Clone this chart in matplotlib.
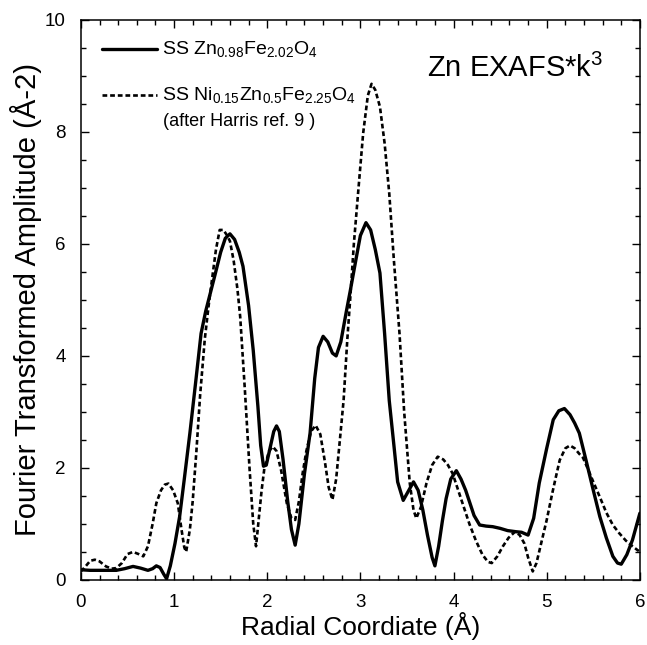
import numpy as np
import matplotlib
matplotlib.use("Agg")
from matplotlib import pyplot as plt
from matplotlib.lines import Line2D
from matplotlib.ticker import MultipleLocator

plt.rcParams['font.family'] = ['Liberation Sans', 'DejaVu Sans']
plt.rcParams['mathtext.fontset'] = 'custom'
plt.rcParams['mathtext.rm'] = 'Liberation Sans'

# SS Zn0.98Fe2.02O4 (solid)
r_zn = [0.00, 0.10, 0.20, 0.30, 0.38, 0.47, 0.56, 0.64, 0.72, 0.77, 0.81, 0.85, 0.89, 0.92,
        0.96, 1.01, 1.06, 1.11, 1.17, 1.23, 1.29, 1.34, 1.38, 1.44, 1.50, 1.55, 1.60, 1.65,
        1.70, 1.74, 1.80, 1.85, 1.90, 1.93, 1.96, 1.99, 2.03, 2.07, 2.10, 2.13, 2.17, 2.22,
        2.26, 2.30, 2.34, 2.40, 2.46, 2.51, 2.55, 2.60, 2.65, 2.70, 2.74, 2.79, 2.85, 2.89,
        2.95, 3.00, 3.06, 3.11, 3.16, 3.21, 3.26, 3.31, 3.36, 3.40, 3.46, 3.52, 3.57, 3.62,
        3.67, 3.72, 3.77, 3.80, 3.84, 3.88, 3.92, 3.97, 4.03, 4.08, 4.13, 4.17, 4.22, 4.28,
        4.35, 4.42, 4.50, 4.58, 4.67, 4.73, 4.80, 4.86, 4.92, 5.00, 5.07, 5.13, 5.19, 5.25,
        5.30, 5.35, 5.42, 5.50, 5.57, 5.64, 5.71, 5.76, 5.80, 5.86, 5.92, 5.96, 6.00]
amp_zn = [0.18, 0.17, 0.17, 0.17, 0.17, 0.20, 0.24, 0.21, 0.17, 0.20, 0.25, 0.22, 0.10, 0.02,
          0.25, 0.65, 1.13, 1.80, 2.62, 3.50, 4.40, 4.80, 5.06, 5.45, 5.85, 6.10, 6.18, 6.08,
          5.85, 5.60, 4.90, 4.10, 3.10, 2.40, 2.03, 2.05, 2.35, 2.65, 2.75, 2.65, 2.15, 1.40,
          0.90, 0.62, 1.00, 1.90, 2.62, 3.60, 4.15, 4.35, 4.25, 4.05, 4.00, 4.25, 4.80, 5.15,
          5.70, 6.15, 6.38, 6.25, 5.90, 5.48, 4.40, 3.20, 2.40, 1.75, 1.42, 1.60, 1.75, 1.60,
          1.25, 0.80, 0.40, 0.25, 0.60, 1.05, 1.45, 1.80, 1.95, 1.80, 1.60, 1.40, 1.15, 0.98,
          0.96, 0.95, 0.92, 0.88, 0.86, 0.85, 0.80, 1.10, 1.73, 2.35, 2.86, 3.02, 3.06, 2.95,
          2.80, 2.62, 2.15, 1.60, 1.13, 0.75, 0.42, 0.30, 0.28, 0.45, 0.71, 0.95, 1.19]

# SS Ni0.15Zn0.5Fe2.25O4 (dashed, after Harris ref. 9)
r_ni = [0.00, 0.05, 0.10, 0.15, 0.20, 0.27, 0.33, 0.38, 0.44, 0.50, 0.56, 0.62, 0.67, 0.72,
        0.77, 0.81, 0.86, 0.90, 0.94, 0.99, 1.04, 1.08, 1.11, 1.13, 1.17, 1.20, 1.24, 1.28,
        1.33, 1.37, 1.41, 1.45, 1.49, 1.53, 1.57, 1.60, 1.64, 1.68, 1.71, 1.76, 1.81, 1.85,
        1.88, 1.91, 1.94, 1.97, 2.02, 2.06, 2.10, 2.15, 2.21, 2.26, 2.30, 2.34, 2.38, 2.42,
        2.47, 2.52, 2.57, 2.62, 2.66, 2.70, 2.74, 2.78, 2.82, 2.86, 2.89, 2.93, 2.98, 3.03,
        3.08, 3.12, 3.16, 3.21, 3.26, 3.31, 3.36, 3.42, 3.47, 3.53, 3.57, 3.60, 3.65, 3.71,
        3.77, 3.83, 3.89, 3.94, 3.99, 4.05, 4.11, 4.17, 4.24, 4.31, 4.37, 4.41, 4.47, 4.53,
        4.59, 4.66, 4.71, 4.76, 4.80, 4.85, 4.89, 4.94, 5.00, 5.06, 5.10, 5.14, 5.20, 5.25,
        5.30, 5.35, 5.39, 5.45, 5.50, 5.57, 5.64, 5.71, 5.78, 5.85, 5.92, 6.00]
amp_ni = [0.15, 0.24, 0.34, 0.36, 0.33, 0.24, 0.20, 0.21, 0.30, 0.46, 0.50, 0.46, 0.42, 0.60,
          1.00, 1.37, 1.60, 1.70, 1.72, 1.60, 1.37, 0.90, 0.58, 0.50, 0.90, 1.40, 2.30, 3.30,
          4.30, 4.88, 5.40, 5.90, 6.25, 6.25, 6.15, 6.05, 5.70, 5.20, 4.70, 3.40, 2.00, 1.00,
          0.60, 1.10, 1.60, 2.00, 2.30, 2.38, 2.30, 1.95, 1.37, 1.10, 1.07, 1.40, 1.90, 2.30,
          2.65, 2.76, 2.60, 2.10, 1.65, 1.43, 1.80, 2.50, 3.21, 4.30, 5.00, 6.00, 7.00, 7.98,
          8.65, 8.86, 8.75, 8.45, 7.80, 6.90, 5.70, 4.40, 3.00, 1.73, 1.25, 1.10, 1.30, 1.73,
          2.05, 2.20, 2.15, 2.05, 1.90, 1.60, 1.30, 1.00, 0.70, 0.45, 0.32, 0.30, 0.42, 0.60,
          0.75, 0.86, 0.80, 0.65, 0.40, 0.15, 0.30, 0.65, 1.07, 1.55, 1.85, 2.14, 2.35, 2.40,
          2.35, 2.25, 2.18, 1.95, 1.75, 1.48, 1.20, 0.98, 0.83, 0.70, 0.60, 0.50]

label_zn = r"SS $\mathregular{Zn_{0.98}Fe_{2.02}O_4}$"
label_ni = r"SS $\mathregular{Ni_{0.15}Zn_{0.5}Fe_{2.25}O_4}$"
label_note = "(after Harris ref. 9 )"

fig = plt.figure(figsize=(6.47, 6.45), dpi=100)
ax = fig.add_axes([0.125, 0.101, 0.864, 0.868])

solid_style = dict(color="black", lw=2.4, solid_capstyle="round")
dash_style = dict(color="black", lw=1.9, linestyle=(0, (1.8, 1.1)))

ax.plot(r_zn, amp_zn, **solid_style)
ax.plot(r_ni, amp_ni, **dash_style)

ax.set_xlim(0, 6)
ax.set_ylim(0, 10)
ax.xaxis.set_major_locator(MultipleLocator(1))
ax.xaxis.set_minor_locator(MultipleLocator(0.2))
ax.yaxis.set_major_locator(MultipleLocator(2))
ax.yaxis.set_minor_locator(MultipleLocator(0.5))
ax.tick_params(which="both", direction="in", top=True, right=True, width=1, labelsize=13.5)
ax.tick_params(which="major", length=6)
ax.tick_params(which="minor", length=3.5)
ax.tick_params(axis="x", pad=10)
ax.tick_params(axis="y", pad=11)
for s in ax.spines.values():
    s.set_linewidth(1.1)

ax.set_xlabel("Radial Coordiate (Å)", fontsize=19, labelpad=1)
ax.set_ylabel("Fourier Transformed Amplitude (Å-2)", fontsize=21, labelpad=2)

# hand-made legend
ax.add_line(Line2D([0.038, 0.136], [0.948, 0.948], transform=ax.transAxes, **solid_style))
ax.add_line(Line2D([0.038, 0.136], [0.866, 0.866], transform=ax.transAxes, **dash_style))
ax.text(0.145, 0.948, label_zn, transform=ax.transAxes, fontsize=14, va="center")
ax.text(0.145, 0.866, label_ni, transform=ax.transAxes, fontsize=14, va="center")
ax.text(0.147, 0.818, label_note, transform=ax.transAxes, fontsize=13, va="center")

ax.text(0.776, 0.914, r"Zn EXAFS*k$\mathregular{^3}$", transform=ax.transAxes,
        fontsize=21, ha="center", va="center")

fig.savefig("out.png", dpi=100)
